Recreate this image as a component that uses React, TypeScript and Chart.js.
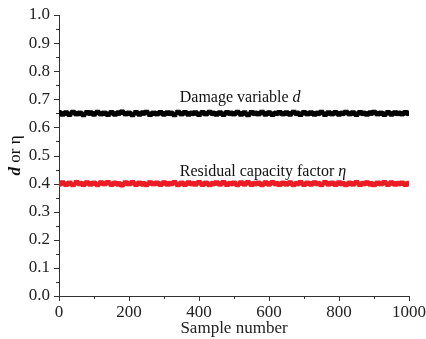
import React, { useEffect, useRef } from "react";
import { Chart, registerables } from "chart.js";

Chart.register(...registerables);

const sampleNumbers = [
  0, 10, 20, 30, 40, 50, 60, 70, 80, 90,
  100, 110, 120, 130, 140, 150, 160, 170, 180, 190,
  200, 210, 220, 230, 240, 250, 260, 270, 280, 290,
  300, 310, 320, 330, 340, 350, 360, 370, 380, 390,
  400, 410, 420, 430, 440, 450, 460, 470, 480, 490,
  500, 510, 520, 530, 540, 550, 560, 570, 580, 590,
  600, 610, 620, 630, 640, 650, 660, 670, 680, 690,
  700, 710, 720, 730, 740, 750, 760, 770, 780, 790,
  800, 810, 820, 830, 840, 850, 860, 870, 880, 890,
  900, 910, 920, 930, 940, 950, 960, 970, 980, 990, 1000,
];

const damageValues = [
  0.652, 0.648, 0.651, 0.647, 0.653, 0.649, 0.650, 0.646, 0.652, 0.651,
  0.648, 0.653, 0.649, 0.650, 0.647, 0.652, 0.648, 0.651, 0.654, 0.649,
  0.650, 0.646, 0.652, 0.648, 0.651, 0.653, 0.647, 0.650, 0.649, 0.652,
  0.648, 0.651, 0.650, 0.646, 0.653, 0.649, 0.652, 0.648, 0.650, 0.651,
  0.647, 0.652, 0.649, 0.653, 0.650, 0.648, 0.651, 0.647, 0.652, 0.650,
  0.649, 0.653, 0.648, 0.651, 0.646, 0.652, 0.650, 0.649, 0.653, 0.648,
  0.651, 0.647, 0.650, 0.652, 0.649, 0.651, 0.648, 0.653, 0.650, 0.647,
  0.652, 0.649, 0.651, 0.648, 0.650, 0.653, 0.647, 0.651, 0.649, 0.652,
  0.648, 0.650, 0.653, 0.649, 0.651, 0.647, 0.652, 0.650, 0.648, 0.651,
  0.653, 0.649, 0.650, 0.647, 0.652, 0.648, 0.651, 0.650, 0.649, 0.652, 0.650,
];

const etaValues = [
  0.399, 0.402, 0.398, 0.401, 0.397, 0.403, 0.400, 0.398, 0.402, 0.399,
  0.401, 0.397, 0.402, 0.400, 0.403, 0.398, 0.401, 0.399, 0.396, 0.402,
  0.400, 0.403, 0.398, 0.401, 0.399, 0.397, 0.402, 0.400, 0.401, 0.398,
  0.402, 0.399, 0.400, 0.403, 0.397, 0.401, 0.398, 0.402, 0.400, 0.399,
  0.403, 0.398, 0.401, 0.397, 0.400, 0.402, 0.399, 0.403, 0.398, 0.400,
  0.401, 0.397, 0.402, 0.399, 0.403, 0.398, 0.400, 0.401, 0.397, 0.402,
  0.399, 0.403, 0.400, 0.398, 0.401, 0.399, 0.402, 0.397, 0.400, 0.403,
  0.398, 0.401, 0.399, 0.402, 0.400, 0.397, 0.403, 0.399, 0.401, 0.398,
  0.402, 0.400, 0.397, 0.401, 0.399, 0.403, 0.398, 0.400, 0.402, 0.399,
  0.397, 0.401, 0.400, 0.403, 0.398, 0.402, 0.399, 0.400, 0.401, 0.398, 0.400,
];

const xTickLabels = ["0", "200", "400", "600", "800", "1000"];
const yTickLabels = ["0.0", "0.1", "0.2", "0.3", "0.4", "0.5", "0.6", "0.7", "0.8", "0.9", "1.0"];

const xTitle = "Sample number";
const damageLabel = "Damage variable ";
const damageSymbol = "d";
const etaLabel = "Residual capacity factor ";
const etaSymbol = "η";

const SERIF = "'Liberation Serif', 'Times New Roman', serif";

function zeroPadding(scale: any) {
  scale.paddingLeft = 0;
  scale.paddingRight = 0;
  scale.paddingTop = 0;
  scale.paddingBottom = 0;
}

export default function App() {
  const ref = useRef<HTMLCanvasElement | null>(null);

  useEffect(() => {
    document.body.style.margin = "0";
    const canvas = ref.current;
    if (!canvas) return;

    const textPlugin = {
      id: "customText",
      afterDraw(chart: any) {
        const ctx = chart.ctx;
        const xs = chart.scales.x;
        const ys = chart.scales.y;
        ctx.save();

        // Tick marks (major longer, minor shorter)
        ctx.strokeStyle = "#333";
        ctx.lineWidth = 1;
        ctx.beginPath();
        xs.ticks.forEach((t: any) => {
          const px = Math.round(xs.getPixelForValue(t.value)) + 0.5;
          const major = Math.round(t.value) % 200 === 0;
          const len = major ? 5 : 3;
          ctx.moveTo(px, xs.top);
          ctx.lineTo(px, xs.top + len);
        });
        ys.ticks.forEach((t: any) => {
          const py = Math.round(ys.getPixelForValue(t.value)) + 0.5;
          const major = Math.round(t.value * 20) % 2 === 0;
          const len = major ? 5 : 3;
          ctx.moveTo(ys.right, py);
          ctx.lineTo(ys.right - len, py);
        });
        ctx.stroke();

        ctx.fillStyle = "#111";
        ctx.textBaseline = "alphabetic";
        ctx.textAlign = "left";

        // Damage label
        const dx = xs.getPixelForValue(345);
        const dy = ys.getPixelForValue(0.708) + 5;
        ctx.font = `16px ${SERIF}`;
        ctx.fillText(damageLabel, dx, dy);
        const w1 = ctx.measureText(damageLabel).width;
        ctx.font = `italic 16px ${SERIF}`;
        ctx.fillText(damageSymbol, dx + w1, dy);

        // Eta label
        const ex = xs.getPixelForValue(345);
        const ey = ys.getPixelForValue(0.445) + 5;
        ctx.font = `16px ${SERIF}`;
        ctx.fillText(etaLabel, ex, ey);
        const w2 = ctx.measureText(etaLabel).width;
        ctx.font = `italic 16px ${SERIF}`;
        ctx.fillText(etaSymbol, ex + w2, ey);

        // Y axis title (rotated)
        const cy = (ys.top + ys.bottom) / 2;
        ctx.translate(20, cy);
        ctx.rotate(-Math.PI / 2);
        ctx.font = `bold italic 17px ${SERIF}`;
        const a = "d";
        const wa = ctx.measureText(a).width;
        ctx.font = `17px ${SERIF}`;
        const b = " or η";
        const wb = ctx.measureText(b).width;
        const start = -(wa + wb) / 2;
        ctx.font = `bold italic 17px ${SERIF}`;
        ctx.fillText(a, start, 0);
        ctx.font = `17px ${SERIF}`;
        ctx.fillText(b, start + wa, 0);
        ctx.restore();
      },
    };

    const chart = new Chart(canvas, {
      type: "scatter",
      data: {
        datasets: [
          {
            label: "d",
            data: sampleNumbers.map((x, i) => ({ x, y: damageValues[i] })),
            backgroundColor: "#000",
            borderColor: "#000",
            pointStyle: "rect",
            pointRadius: 3.2,
            borderWidth: 1,
            showLine: true,
          },
          {
            label: "eta",
            data: sampleNumbers.map((x, i) => ({ x, y: etaValues[i] })),
            backgroundColor: "#ec1c24",
            borderColor: "#ec1c24",
            pointStyle: "rect",
            pointRadius: 3.2,
            borderWidth: 1,
            showLine: true,
          },
        ],
      },
      options: {
        responsive: false,
        animation: false,
        layout: { padding: { left: 0, top: 15, right: 17, bottom: 0 } },
        plugins: {
          legend: { display: false },
          tooltip: { enabled: false },
        },
        scales: {
          x: {
            type: "linear",
            min: 0,
            max: 1000,
            afterFit(scale: any) {
              scale.height = 43;
              zeroPadding(scale);
            },
            border: { display: true, color: "#333", width: 1 },
            grid: { display: false, drawTicks: false },
            ticks: {
              stepSize: 100,
              padding: 6,
              color: "#222",
              font: { family: SERIF, size: 17 },
              maxRotation: 0,
              autoSkip: false,
              callback: (v: any) => {
                const idx = Math.round(Number(v) / 200);
                return Number(v) % 200 === 0 ? xTickLabels[idx] : "";
              },
            },
            title: {
              display: true,
              text: xTitle,
              color: "#222",
              font: { family: SERIF, size: 17 },
              padding: { top: 0, bottom: 0 },
            },
          },
          y: {
            type: "linear",
            min: 0,
            max: 1,
            afterFit(scale: any) {
              scale.width = 59;
              zeroPadding(scale);
            },
            border: { display: true, color: "#333", width: 1 },
            grid: { display: false, drawTicks: false },
            ticks: {
              stepSize: 0.05,
              padding: 9,
              color: "#222",
              font: { family: SERIF, size: 17 },
              autoSkip: false,
              callback: (v: any) => {
                const n = Math.round(Number(v) * 20);
                return n % 2 === 0 ? yTickLabels[n / 2] : "";
              },
            },
          },
        },
      },
      plugins: [textPlugin],
    });

    return () => chart.destroy();
  }, []);

  return <canvas ref={ref} width={426} height={339} style={{ display: "block" }} />;
}
